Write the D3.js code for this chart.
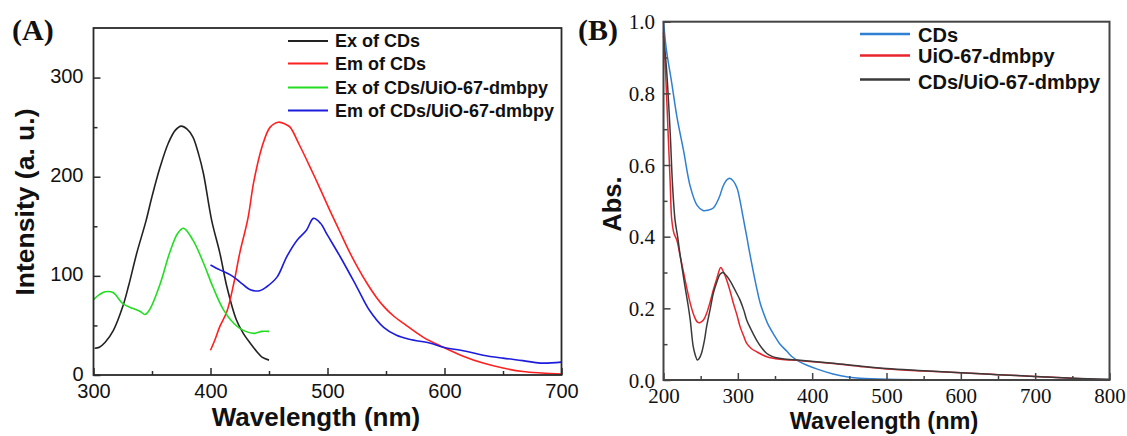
<!DOCTYPE html>
<html><head><meta charset="utf-8">
<script src="https://cdn.jsdelivr.net/npm/d3@7"></script>
<style>body{margin:0;background:#fff}svg{display:block}
.serif{font-family:"Liberation Serif","Times New Roman",Times,serif !important}
.sans{font-family:"Liberation Sans",Arial,Helvetica,sans-serif !important}
</style>
</head><body>
<svg id="c" width="1127" height="436"></svg>
<script>
// ---------- Panel A data (wavelength nm, intensity a.u.) ----------
const exCDs = [[301,27],[305,28],[310,33],[317,45],[325,69],[330,90],[337,123],[345,156],[350,180],[357,210],[364,234],[370,247],[375,251],[380,248],[385,240],[390,222],[394,203],[401,156],[408,123],[414,89],[422,56],[428,42],[434,32],[440,23],[444,18],[450,15]];
const emCDs = [[400,25],[404,36],[408,49],[414,64],[420,93],[425,123],[432,158],[437,195],[444,230],[451,250],[458,255],[464,253],[468,250],[476,232],[485,210],[494,187],[502,166],[510,146],[518,126],[526,108],[534,92],[542,78],[549,68],[557,59],[565,52],[582,38],[599,28],[616,19],[633,12],[650,7],[667,3.5],[683,2],[700,1]];
const exComposite = [[300,76],[305,81],[310,84],[317,83],[325,72],[334,67],[340,64],[344,61],[348,66],[357,92],[365,123],[372,143],[377,148],[385,136],[394,113],[402,89],[411,66],[420,52],[428,45],[437,42],[444,44],[450,44]];
const emComposite = [[400,111],[408,106],[417,101],[425,94],[434,86],[442,85],[448,89],[457,99],[465,119],[474,136],[482,146],[488,158],[494,153],[500,141],[511,119],[525,89],[536,65],[548,48],[559,40],[570,36],[588,32],[599,28],[616,24.5],[633,20],[650,17],[667,14.5],[682,12],[700,13]];
const seriesA = [
  {name:"Ex of CDs", data:exCDs, color:"#222222"},
  {name:"Em of CDs", data:emCDs, color:"#ff2020"},
  {name:"Ex of CDs/UiO-67-dmbpy", data:exComposite, color:"#22dd22"},
  {name:"Em of CDs/UiO-67-dmbpy", data:emComposite, color:"#1c1cdd"}
];
const ticksAx = [300,400,500,600,700];
const ticksAy = [0,100,200,300];

// ---------- Panel B data (wavelength nm, absorbance) ----------
const absCDs = [[200,1.0],[204,0.92],[211,0.83],[218,0.735],[227,0.64],[236,0.54],[245,0.488],[253,0.473],[260,0.474],[267,0.48],[275,0.51],[280,0.54],[285,0.558],[289,0.563],[294,0.555],[299,0.535],[303,0.50],[307,0.455],[312,0.40],[316,0.354],[325,0.26],[330,0.215],[334,0.19],[340,0.158],[348,0.128],[356,0.102],[366,0.08],[373,0.065],[384,0.05],[406,0.031],[428,0.017],[450,0.008],[464,0.005],[500,0.002],[600,0.0],[700,0.0],[800,0.0]];
const absUiO = [[200,0.97],[203,0.85],[206,0.70],[209,0.55],[211,0.45],[214,0.41],[218,0.39],[222,0.35],[227,0.30],[231,0.26],[236,0.214],[241,0.18],[245,0.163],[249,0.16],[254,0.168],[258,0.186],[263,0.22],[267,0.251],[272,0.285],[277,0.314],[281,0.30],[285,0.279],[290,0.245],[294,0.214],[299,0.18],[303,0.149],[308,0.122],[312,0.102],[318,0.088],[325,0.079],[339,0.065],[357,0.058],[384,0.054],[428,0.046],[464,0.038],[500,0.031],[550,0.025],[600,0.02],[650,0.015],[700,0.01],[750,0.005],[800,0.0]];
const absComposite = [[200,0.96],[204,0.87],[209,0.69],[212,0.55],[215.5,0.447],[219,0.40],[222,0.354],[226,0.30],[229,0.26],[233,0.21],[236,0.167],[240,0.093],[243,0.068],[245.5,0.056],[248,0.06],[251,0.074],[255,0.11],[258,0.149],[263,0.2],[267,0.242],[272,0.275],[276,0.295],[280,0.30],[285,0.29],[290,0.275],[294,0.26],[299,0.24],[303,0.223],[308,0.195],[312,0.167],[318,0.14],[325,0.112],[332,0.09],[339,0.074],[346,0.066],[352,0.062],[360,0.059],[384,0.055],[428,0.047],[464,0.039],[500,0.032],[550,0.026],[600,0.02],[650,0.015],[700,0.01],[750,0.005],[800,0.002]];
const seriesB = [
  {name:"CDs", data:absCDs, color:"#2f7fd2"},
  {name:"UiO-67-dmbpy", data:absUiO, color:"#e8252d"},
  {name:"CDs/UiO-67-dmbpy", data:absComposite, color:"#3a3a3a"}
];
const ticksBx = [200,300,400,500,600,700,800];
const ticksBy = [0,0.2,0.4,0.6,0.8,1.0];

const svg = d3.select("#c");

function drawPanel(o){
  const g = svg.append("g");
  const x = d3.scaleLinear().domain(o.xd).range([o.l, o.r]);
  const y = d3.scaleLinear().domain(o.yd).range([o.b, o.t]);
  const line = d3.line().x(d=>x(d[0])).y(d=>y(d[1])).curve(d3.curveCatmullRom.alpha(0.5));
  o.series.forEach(s=>{
    g.append("path").attr("d", line(s.data)).attr("fill","none")
      .attr("stroke", s.color).attr("stroke-width", o.lw).attr("stroke-linejoin","round");
  });
  const xa = d3.axisBottom(x).tickValues(o.xt).tickSize(-7).tickPadding(0).tickFormat(o.xf);
  const ya = d3.axisLeft(y).tickValues(o.yt).tickSize(-7).tickPadding(0).tickFormat(o.yf);
  const gx = g.append("g").attr("transform",`translate(0,${o.b})`).call(xa);
  const gy = g.append("g").attr("transform",`translate(${o.l},0)`).call(ya);
  const xm = d3.axisBottom(x).tickValues(o.xmin).tickSize(-4).tickFormat("");
  const ym = d3.axisLeft(y).tickValues(o.ymin).tickSize(-4).tickFormat("");
  const gxm = g.append("g").attr("transform",`translate(0,${o.b})`).call(xm);
  const gym = g.append("g").attr("transform",`translate(${o.l},0)`).call(ym);
  [gx,gy,gxm,gym].forEach(a=>{
    a.select(".domain").remove();
    a.attr("font-family", null).attr("font-size", null);
    a.selectAll("line").attr("stroke", o.frame).attr("stroke-width",1.5);
  });
  gx.selectAll("text").attr("class", o.tickClass).style("font-size", o.tfs+"px").attr("fill","#111")
    .attr("dy", null).attr("y", o.xly).attr("dominant-baseline","central");
  gy.selectAll("text").attr("class", o.tickClass).style("font-size", o.tfs+"px").attr("fill","#111")
    .attr("dy", o.yldy).attr("x", -o.ylx).attr("dominant-baseline","central");
  g.append("rect").attr("x",o.l).attr("y",o.t).attr("width",o.r-o.l).attr("height",o.b-o.t)
    .attr("fill","none").attr("stroke",o.frame).attr("stroke-width",o.fw);
  g.append("text").attr("class","sans").attr("x",o.xtX).attr("y",o.xtY).attr("text-anchor","middle")
    .attr("font-weight","bold").style("font-size",o.xtfs+"px").attr("fill","#111").text("Wavelength (nm)");
  g.append("text").attr("class","sans").attr("transform",`translate(${o.ytX},${o.ytY}) rotate(-90)`).attr("text-anchor","middle")
    .attr("font-weight","bold").style("font-size",o.ytfs+"px").attr("fill","#111").text(o.ytitle);
  g.append("text").attr("class","serif").attr("x",o.plX).attr("y",o.plY).attr("font-weight","bold")
    .style("font-size","30px").attr("fill","#111").text(o.plabel);
  o.series.forEach((s,i)=>{
    const ly = o.leg.y[i];
    g.append("line").attr("x1",o.leg.x1).attr("x2",o.leg.x2).attr("y1",ly).attr("y2",ly)
      .attr("stroke",s.color).attr("stroke-width",o.leg.lw);
    g.append("text").attr("class","sans").attr("x",o.leg.tx).attr("y",ly + (o.leg.dy ? o.leg.dy[i] : 0)).attr("dominant-baseline","central")
      .attr("font-weight","bold").style("font-size",o.leg.fs+"px").attr("fill","#111").text(s.name);
  });
}

drawPanel({
  xd:[300,700], yd:[0,350], l:93.5, r:561.5, t:28, b:375,
  series:seriesA, lw:1.6,
  xt:ticksAx, yt:ticksAy, xmin:[350,450,550,650], ymin:[50,150,250],
  xf:d3.format("d"), yf:d3.format("d"),
  tickClass:"sans", tfs:20, xly:16, ylx:10, yldy:-2,
  frame:"#2a2a2a", fw:1.8,
  xtX:316, xtY:426, xtfs:26, ytX:34, ytY:202, ytfs:26.5, ytitle:"Intensity (a. u.)",
  plX:12, plY:40, plabel:"(A)",
  leg:{x1:288, x2:328, tx:335, y:[41,63.5,87.5,110.5], lw:1.8, fs:18}
});

drawPanel({
  xd:[200,800], yd:[0,1.0], l:663.5, r:1109.5, t:21.7, b:380,
  series:seriesB, lw:1.5,
  xt:ticksBx, yt:ticksBy, xmin:[250,350,450,550,650,750], ymin:[0.1,0.3,0.5,0.7,0.9],
  xf:d3.format("d"), yf:d3.format(".1f"),
  tickClass:"serif", tfs:21, xly:15.5, ylx:8.5, yldy:0,
  frame:"#444444", fw:2,
  xtX:884, xtY:428.5, xtfs:23.5, ytX:621, ytY:204, ytfs:25.5, ytitle:"Abs.",
  plX:578, plY:40, plabel:"(B)",
  leg:{x1:860, x2:910, tx:918, y:[34,55.5,79.5], dy:[1,0,2], lw:2.5, fs:20}
});
</script>
</body></html>
